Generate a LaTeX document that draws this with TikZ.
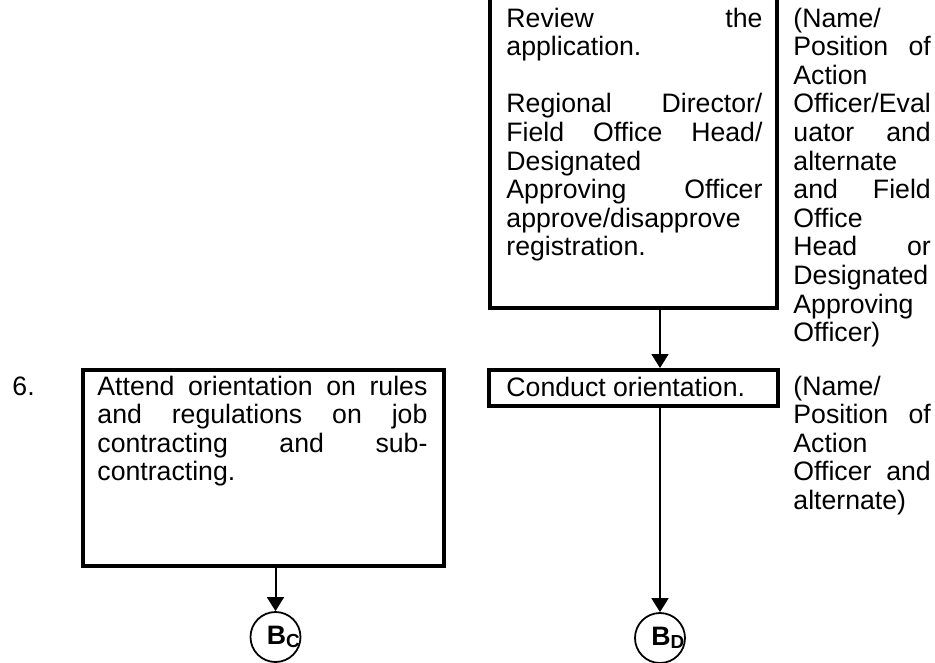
\documentclass[tikz,border=0pt]{standalone}
\usepackage{fontspec}
\setmainfont{Liberation Sans}
\usetikzlibrary{arrows.meta, fit}

\newcommand{\jline}[2]{\makebox[#1][l]{#2}}
\newcommand{\offpage}[1]{\makebox[0pt]{\hspace{7pt}\fontsize{12}{12}\selectfont\bfseries B\raisebox{-1.4pt}{\fontsize{8.5}{8.5}\selectfont #1}}}

\begin{document}
\begin{tikzpicture}[x=0.45pt, y=-0.45pt,
          box/.style={draw, line width=1.8pt, inner sep=0pt},
          txt/.style={anchor=base west, inner sep=0pt, align=left,
            font=\fontsize{12}{12.87}\selectfont},
          conn/.style={draw, circle, line width=0.8pt, minimum size=22.5pt, inner sep=0pt},
          flow/.style={line width=0.9pt, -{Triangle[length=6.3pt, width=7.6pt]}},
        ]
          \useasboundingbox (0,0) rectangle (935,662);
          % box corners
          \coordinate (r1) at (490,-20);
          \coordinate (r2) at (777,308);
          \coordinate (c1) at (489,370);
          \coordinate (c2) at (778,406);
          \coordinate (a1) at (82.5,369.5);
          \coordinate (a2) at (444,566);
          \node[box, fit=(r1) (r2)] (review) {};
          \node[box, fit=(c1) (c2)] (conduct) {};
          \node[box, fit=(a1) (a2)] (attend) {};
          \node[conn] (bc) at (275.5,637) {\offpage{C}};
          \node[conn] (bd) at (660,638) {\offpage{D}};
          \draw[flow] (review.south -| bd) -- (conduct.north -| bd);
          \draw[flow] (conduct.south -| bd) -- (bd.north);
          \draw[flow] (attend.south -| bc) -- (bc.north);
          % texts
          \node[txt, text width=115.2pt] (reviewtxt) at (506,27)
            {\jline{115.2pt}{Review\hfill the}\\ application.\\[12.87pt]
             \jline{115.2pt}{Regional\hfill Director/}\\
             \jline{115.2pt}{Field\hfill Office\hfill Head/}\\ Designated\\
             \jline{115.2pt}{Approving\hfill Officer}\\ approve/disapprove\\ registration.};
          \node[txt, text width=61.8pt] (who1) at (793,27)
            {(Name/\\ \jline{61.8pt}{Position\hfill of}\\ Action\\ Officer/Eval\\
             \jline{61.8pt}{uator\hfill and}\\ alternate\\ \jline{61.8pt}{and\hfill Field}\\
             Office\\ \jline{61.8pt}{Head\hfill or}\\ Designated\\ Approving\\ Officer)};
          \node[txt] (conducttxt) at (506,396) {Conduct orientation.};
          \node[txt, text width=61.8pt] (who2) at (793,395)
            {(Name/\\ \jline{61.8pt}{Position\hfill of}\\ Action\\
             \jline{61.8pt}{Officer\hfill and}\\ alternate)};
          \node[txt] (step6) at (12,395) {6.};
          \node[txt, text width=148.5pt] (attendtxt) at (97,395)
            {\jline{148.5pt}{Attend\hfill orientation\hfill on\hfill rules}\\
             \jline{148.5pt}{and\hfill regulations\hfill on\hfill job}\\
             \jline{148.5pt}{contracting\hfill and\hfill sub-}\\ contracting.};
        \end{tikzpicture}
\end{document}
